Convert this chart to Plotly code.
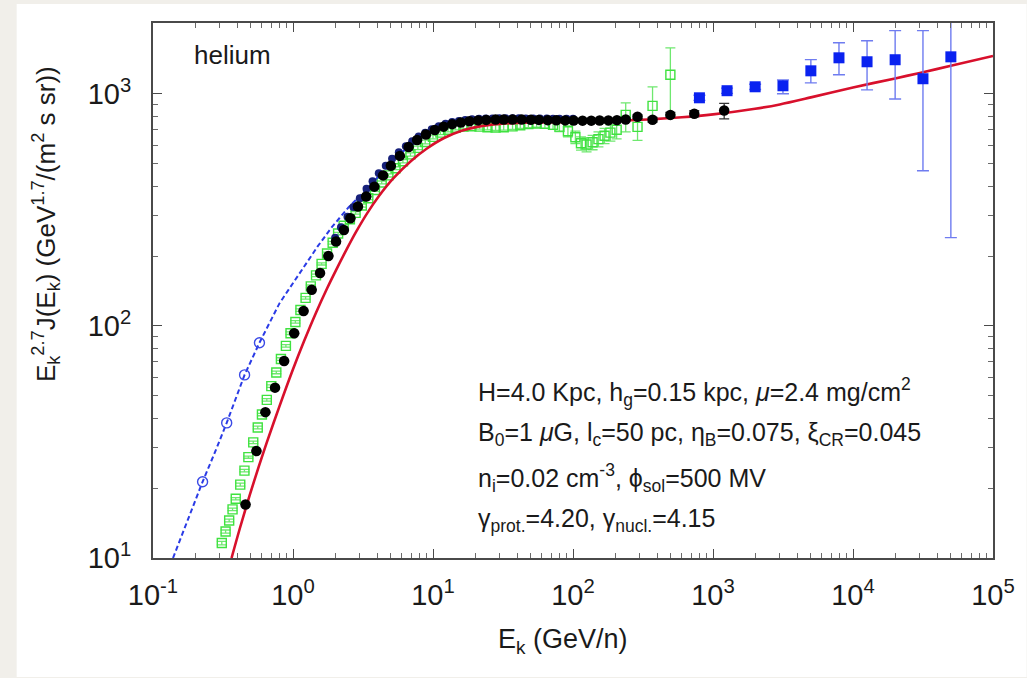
import plotly.graph_objects as go

# ---- model curve (red, solid) ----
model_E = [0.364, 0.42, 0.49, 0.57, 0.65, 0.8, 1.0, 1.2, 1.46, 1.75, 2.03, 2.4, 2.82, 3.4, 4.1, 5.2,
           7.0, 9.0, 12.0, 16.0, 21.0, 30.0, 50.0, 100.0, 200.0, 340.0, 600.0, 1000.0, 2000.0,
           3000.0, 5000.0, 10000.0, 20000.0, 30000.0, 50000.0, 100000.0]
model_J = [10.0, 13.6, 18.6, 24.8, 31.5, 45.0, 65.0, 86.0, 114.0, 145.0, 174.0, 212.0, 254.0, 307.0,
           362.0, 432.0, 515.0, 580.0, 645.0, 693.0, 722.0, 742.0, 752.0, 757.0, 764.0, 775.0, 792.0,
           815.0, 862.0, 900.0, 965.0, 1065.0, 1165.0, 1230.0, 1320.0, 1455.0]

# ---- low-modulation curve (blue, dashed) ----
dash_E = [0.139, 0.18, 0.226, 0.28, 0.336, 0.451, 0.576, 0.8, 1.11, 1.5, 1.9, 2.5, 3.32, 4.5, 6.0,
          8.0, 11.0, 15.0, 22.0, 35.0, 60.0]
dash_J = [10.0, 15.0, 21.3, 29.0, 38.2, 61.5, 84.6, 125.0, 169.0, 220.0, 267.0, 325.0, 385.0, 470.0,
          560.0, 640.0, 710.0, 755.0, 778.0, 786.0, 786.0]

# ---- low-energy data (blue open circles) ----
bluec_E = [0.226, 0.336, 0.451, 0.576]
bluec_J = [21.3, 38.2, 61.5, 84.6]

# ---- green open squares ----
green_E = [0.31, 0.33, 0.35, 0.37, 0.39, 0.42, 0.45, 0.48, 0.52, 0.56, 0.60, 0.65, 0.70, 0.76, 0.82,
           0.89, 0.96, 1.04, 1.13, 1.23, 1.34, 1.46, 1.6, 1.75, 1.92, 2.1, 2.3, 2.55, 2.8, 3.1, 3.45,
           3.85, 4.3, 4.8, 5.4, 6.1, 6.9, 7.8, 8.8, 10.0, 11.3, 12.8, 14.5, 16.5, 18.8, 21.5, 24.5,
           28.0, 32.0, 37.0, 42.0, 48.0, 55.0, 63.0, 72.0, 80.0, 92.0, 104.0, 114.0, 125.0, 138.0,
           152.0, 168.0, 185.0, 205.0, 238.0, 289.0, 370.0, 496.0]
green_J = [11.6, 13.0, 14.5, 16.2, 18.0, 20.7, 23.8, 27.2, 31.5, 36.5, 41.5, 48.0, 55.0, 63.0, 72.0,
           82.0, 93.0, 104.0, 117.0, 132.0, 148.0, 165.0, 185.0, 205.0, 228.0, 250.0, 270.0, 288.0,
           307.0, 330.0, 355.0, 385.0, 415.0, 445.0, 478.0, 512.0, 548.0, 585.0, 620.0, 652.0, 680.0,
           700.0, 714.0, 722.0, 725.0, 722.0, 718.0, 716.0, 718.0, 724.0, 732.0, 740.0, 745.0, 742.0,
           735.0, 722.0, 690.0, 650.0, 612.0, 605.0, 618.0, 638.0, 660.0, 680.0, 700.0, 811.0, 720.0,
           887.0, 1208.0]
green_hi = [11.8, 13.2, 14.7, 16.4, 18.2, 21.0, 24.1, 27.5, 31.9, 37.0, 42.0, 48.6, 55.7, 63.8, 72.9,
            83.0, 94.2, 105.3, 118.5, 133.7, 150.0, 167.0, 187.0, 208.0, 231.0, 253.0, 274.0, 292.0,
            311.0, 335.0, 360.0, 390.0, 421.0, 452.0, 485.0, 520.0, 557.0, 595.0, 631.0, 664.0, 693.0,
            714.0, 729.0, 738.0, 742.0, 740.0, 737.0, 736.0, 739.0, 746.0, 755.0, 765.0, 772.0, 772.0,
            768.0, 757.0, 728.0, 690.0, 652.0, 648.0, 662.0, 685.0, 710.0, 735.0, 760.0, 914.0, 800.0,
            1072.0, 1578.0]
green_lo = [11.4, 12.8, 14.3, 16.0, 17.8, 20.4, 23.5, 26.9, 31.1, 36.0, 41.0, 47.4, 54.3, 62.2, 71.1,
            81.0, 91.8, 102.7, 115.5, 130.3, 146.0, 163.0, 183.0, 202.0, 225.0, 247.0, 266.0, 284.0,
            303.0, 325.0, 350.0, 380.0, 409.0, 438.0, 471.0, 504.0, 539.0, 575.0, 609.0, 640.0, 667.0,
            686.0, 699.0, 706.0, 708.0, 704.0, 699.0, 696.0, 697.0, 702.0, 709.0, 715.0, 718.0, 712.0,
            702.0, 687.0, 652.0, 610.0, 572.0, 562.0, 574.0, 591.0, 610.0, 625.0, 640.0, 686.0, 630.0,
            773.0, 811.0]

# ---- navy filled circles ----
navy_E = [2.0, 2.2, 2.45, 2.7, 3.0, 3.35, 3.7, 4.1, 4.6, 5.1, 5.7, 6.4, 7.1, 7.9, 8.8, 9.8, 11.0,
          12.3, 13.7, 15.3, 17.0, 19.0, 21.3, 23.8, 26.6, 29.7, 33.0, 37.0, 41.0, 46.0, 52.0, 58.0,
          65.0, 72.0, 80.0, 90.0, 100.0]
navy_J = [240.0, 266.0, 295.0, 325.0, 355.0, 390.0, 420.0, 455.0, 490.0, 525.0, 560.0, 595.0, 625.0,
          655.0, 680.0, 703.0, 725.0, 742.0, 755.0, 764.0, 772.0, 777.0, 780.0, 782.0, 783.0, 784.0,
          784.0, 784.0, 784.0, 783.0, 783.0, 782.0, 782.0, 781.0, 781.0, 780.0, 780.0]

# ---- black filled circles ----
black_E = [0.458, 0.548, 0.635, 0.744, 0.864, 1.02, 1.19, 1.36, 1.56, 1.79, 2.03, 2.31, 2.57, 2.91,
           3.33, 3.81, 4.4, 5.0, 5.8, 6.7, 7.7, 8.9, 10.3, 11.9, 13.7, 15.8, 18.2, 21.0, 24.0, 28.0,
           32.0, 37.0, 43.0, 50.0, 57.0, 66.0, 76.0, 88.0, 101.0, 117.0, 135.0, 155.0, 179.0, 206.0,
           238.0, 289.0, 370.0, 496.0, 735.0, 1202.0]
black_J = [17.0, 28.9, 42.5, 54.2, 70.6, 93.0, 116.0, 143.0, 169.0, 200.0, 231.0, 259.0, 291.0, 327.0,
           361.0, 398.0, 445.0, 490.0, 540.0, 590.0, 632.0, 668.0, 698.0, 722.0, 740.0, 752.0, 762.0,
           768.0, 772.0, 774.0, 775.0, 775.0, 774.0, 773.0, 772.0, 770.0, 769.0, 768.0, 767.0, 766.0,
           766.0, 767.0, 768.0, 770.0, 775.0, 796.0, 773.0, 811.0, 820.0, 847.0]
black_hi = [0.0] * 45 + [15.0, 18.0, 20.0, 25.0, 63.0]
black_lo = [0.0] * 45 + [15.0, 18.0, 20.0, 25.0, 67.0]

# ---- high-energy data (blue filled squares) ----
bsq_E = [800.0, 1260.0, 2000.0, 3160.0, 5000.0, 7940.0, 12600.0, 20000.0, 31600.0, 50000.0]
bsq_J = [961.0, 1031.0, 1072.0, 1083.0, 1256.0, 1429.0, 1374.0, 1402.0, 1161.0, 1443.0]
bsq_hi = [985.0, 1058.0, 1100.0, 1148.0, 1403.0, 1660.0, 1692.0, 1871.0, 1871.0, 3000.0]
bsq_lo = [937.0, 1004.0, 1044.0, 1000.0, 1114.0, 1208.0, 1040.0, 950.0, 466.0, 240.0]

tick_x = [0.1, 1, 10, 100, 1000, 10000, 100000]
tick_x_text = ["10<sup>-1</sup>", "10<sup>0</sup>", "10<sup>1</sup>", "10<sup>2</sup>",
               "10<sup>3</sup>", "10<sup>4</sup>", "10<sup>5</sup>"]
tick_y = [10, 100, 1000]
tick_y_text = ["10<sup>1</sup>", "10<sup>2</sup>", "10<sup>3</sup>"]

info_lines = [
    "H=4.0 Kpc, h<sub>g</sub>=0.15 kpc, <i>μ</i>=2.4 mg/cm<sup>2</sup>",
    "B<sub>0</sub>=1 <i>μ</i>G, l<sub>c</sub>=50 pc, η<sub>B</sub>=0.075, ξ<sub>CR</sub>=0.045",
    "n<sub>i</sub>=0.02 cm<sup>-3</sup>, ϕ<sub>sol</sub>=500 MV",
    "γ<sub>prot.</sub>=4.20, γ<sub>nucl.</sub>=4.15",
]

FONT = "Liberation Sans, Arial, Helvetica, sans-serif"
INK = "#1a1a1a"

fig = go.Figure()

fig.add_trace(go.Scatter(
    x=green_E, y=green_J, mode="markers",
    marker=dict(symbol="square-open", size=9, color="#3fe23f", line=dict(width=1.4)),
    error_y=dict(type="data", symmetric=False,
                 array=[h - v for h, v in zip(green_hi, green_J)],
                 arrayminus=[v - l for v, l in zip(green_J, green_lo)],
                 color="#6fe86f", thickness=1.3, width=5),
    showlegend=False))

fig.add_trace(go.Scatter(
    x=dash_E, y=dash_J, mode="lines",
    line=dict(color="#2a3be6", width=2, dash="5px,3px"), showlegend=False))

fig.add_trace(go.Scatter(
    x=bluec_E, y=bluec_J, mode="markers",
    marker=dict(symbol="circle-open", size=10, color="#3a4ae6", line=dict(width=1.4)),
    showlegend=False))

fig.add_trace(go.Scatter(
    x=navy_E, y=navy_J, mode="markers",
    marker=dict(symbol="circle", size=8, color="#17207a"), showlegend=False))

fig.add_trace(go.Scatter(
    x=model_E, y=model_J, mode="lines", line_shape="spline",
    line=dict(color="#d8102c", width=2.6, smoothing=0.8), showlegend=False))

fig.add_trace(go.Scatter(
    x=black_E, y=black_J, mode="markers",
    marker=dict(symbol="circle", size=10.5, color="#000000"),
    error_y=dict(type="data", symmetric=False, array=black_hi, arrayminus=black_lo,
                 color="#333333", thickness=1.3, width=5),
    showlegend=False))

fig.add_trace(go.Scatter(
    x=bsq_E, y=bsq_J, mode="markers",
    marker=dict(symbol="square", size=11, color="#0a22f0"),
    error_y=dict(type="data", symmetric=False,
                 array=[h - v for h, v in zip(bsq_hi, bsq_J)],
                 arrayminus=[v - l for v, l in zip(bsq_J, bsq_lo)],
                 color="#6f7cf0", thickness=1.4, width=6),
    showlegend=False))

axis_common = dict(
    type="log", showgrid=False, zeroline=False,
    showline=True, linecolor="#4a4a4a", linewidth=2, mirror="allticks",
    ticks="inside", ticklen=9, tickwidth=1, tickcolor="#4a4a4a",
    minor=dict(ticks="inside", ticklen=5, tickwidth=1, tickcolor="#6a6a6a", dtick="D1"),
    tickfont=dict(family=FONT, size=29, color=INK),
)

fig.update_xaxes(range=[-1, 5], tickvals=tick_x, ticktext=tick_x_text,
                 ticklabelstandoff=10, **axis_common)
fig.update_yaxes(range=[1, 3.305], tickvals=tick_y, ticktext=tick_y_text,
                 ticklabelstandoff=14, **axis_common)

annotations = [
    dict(text="helium", x=0.046, y=0.94, xref="paper", yref="paper", xanchor="left",
         yanchor="middle", showarrow=False, font=dict(family=FONT, size=26, color=INK)),
    dict(text="E<sub>k</sub> (GeV/n)", x=0.488, y=-0.155, xref="paper", yref="paper",
         xanchor="center", yanchor="middle", showarrow=False,
         font=dict(family=FONT, size=27, color=INK)),
    dict(text="E<sub>k</sub><sup>2.7</sup>J(E<sub>k</sub>) (GeV<sup>1.7</sup>/(m<sup>2</sup> s sr))",
         x=-0.128, y=0.625, xref="paper", yref="paper", textangle=-90,
         xanchor="center", yanchor="middle", showarrow=False,
         font=dict(family=FONT, size=26, color=INK)),
]
for i, line in enumerate(info_lines):
    annotations.append(dict(text=line, x=0.384, y=[0.31, 0.231, 0.150, 0.071][i],
                            xref="paper", yref="paper", xanchor="left", yanchor="middle",
                            showarrow=False, font=dict(family=FONT, size=25, color=INK)))

fig.update_layout(
    width=1027, height=678,
    margin=dict(l=153, r=30, t=23, b=120),
    paper_bgcolor="#f1efea", plot_bgcolor="#ffffff",
    annotations=annotations,
    shapes=[dict(type="rect", xref="paper", yref="paper", x0=-0.1623, x1=1.04, y0=-0.2224,
                 y1=1.0355, fillcolor="#ffffff", line=dict(width=0), layer="below")],
)

fig.write_html("out.html")
